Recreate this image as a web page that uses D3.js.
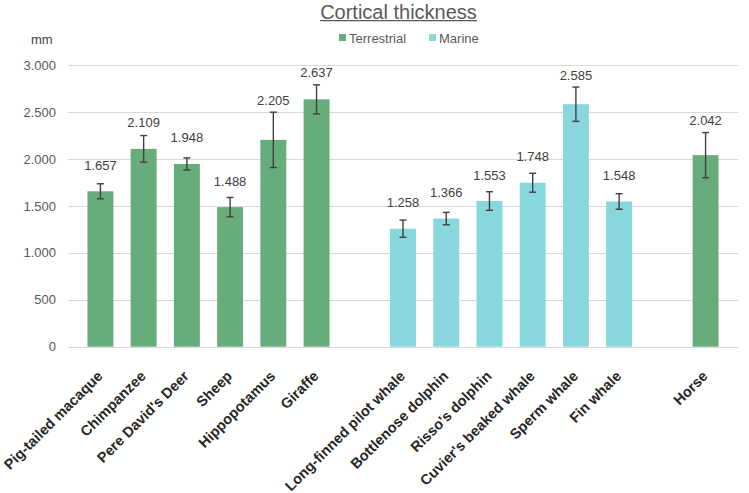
<!DOCTYPE html>
<html>
<head>
<meta charset="utf-8">
<script src="https://cdn.jsdelivr.net/npm/d3@7"></script>
<style>
  body { margin: 0; background: #fff; }
  svg { font-family: "Liberation Sans", Arial, sans-serif; }
</style>
</head>
<body>
<div id="chart"></div>
<script>
// chart data
const terrestrial = ["Pig-tailed macaque", "Chimpanzee", "Pere David's Deer", "Sheep", "Hippopotamus", "Giraffe"];
const terrestrialValues = [1657, 2109, 1948, 1488, 2205, 2637];
const terrestrialErrors = [80, 142, 64, 103, 295, 155];

const marine = ["Long-finned pilot whale", "Bottlenose dolphin", "Risso's dolphin", "Cuvier's beaked whale", "Sperm whale", "Fin whale"];
const marineValues = [1258, 1366, 1553, 1748, 2585, 1548];
const marineErrors = [92, 66, 99, 101, 183, 83];

const extra = ["Horse"];
const extraValues = [2042];
const extraErrors = [241];

const yTicks = [0, 500, 1000, 1500, 2000, 2500, 3000];
const seriesNames = ["Terrestrial", "Marine"];
const colors = { Terrestrial: "#67ad7b", Marine: "#88d6de" };

const width = 749, height = 493;

// build rows for drawing
const rows = [];
terrestrial.forEach((c, i) => rows.push({ cat: c, value: terrestrialValues[i], err: terrestrialErrors[i], group: "Terrestrial" }));
marine.forEach((c, i) => rows.push({ cat: c, value: marineValues[i], err: marineErrors[i], group: "Marine" }));
extra.forEach((c, i) => rows.push({ cat: c, value: extraValues[i], err: extraErrors[i], group: "Terrestrial" }));

// spacer slots between groups
const domain = [...terrestrial, "__gap1", ...marine, "__gap2", ...extra];

const locale = d3.formatLocale({ decimal: ",", thousands: ".", grouping: [3], currency: ["", "€"] });
const fmt = locale.format(",d");

const svg = d3.select("#chart").append("svg").attr("width", width).attr("height", height);

const x = d3.scaleBand().domain(domain).range([68, 738]).paddingInner(0.4).paddingOuter(0.45);
const y = d3.scaleLinear().domain([0, 3000]).range([346.7, 65.3]);

// gridlines
svg.append("g").selectAll("line").data(yTicks).join("line")
    .attr("x1", 68).attr("x2", 738)
    .attr("y1", d => Math.round(y(d)) + 0.5).attr("y2", d => Math.round(y(d)) + 0.5)
    .attr("stroke", "#d9d9d9").attr("stroke-width", 1);

// y axis labels
svg.append("g").selectAll("text").data(yTicks).join("text")
    .attr("x", 56).attr("y", d => y(d) + 4.5)
    .attr("text-anchor", "end").attr("font-size", 13).attr("fill", "#595959")
    .text(d => fmt(d));

svg.append("text").attr("x", 31).attr("y", 44)
    .attr("font-size", 13).attr("fill", "#404040").text("mm");

// bars
svg.append("g").selectAll("rect").data(rows).join("rect")
    .attr("x", d => x(d.cat)).attr("width", x.bandwidth())
    .attr("y", d => y(d.value)).attr("height", d => y(0) - y(d.value))
    .attr("fill", d => colors[d.group]);

// error bars
const eb = svg.append("g").attr("stroke", "#404040").attr("stroke-width", 1.4);
rows.forEach(d => {
    const cx = x(d.cat) + x.bandwidth() / 2;
    const top = y(d.value + d.err), bot = y(d.value - d.err);
    eb.append("line").attr("x1", cx).attr("x2", cx).attr("y1", top).attr("y2", bot);
    eb.append("line").attr("x1", cx - 3.5).attr("x2", cx + 3.5).attr("y1", top).attr("y2", top);
    eb.append("line").attr("x1", cx - 3.5).attr("x2", cx + 3.5).attr("y1", bot).attr("y2", bot);
});

// value labels, above the bar or above the error bar
svg.append("g").selectAll("text").data(rows).join("text")
    .attr("x", d => x(d.cat) + x.bandwidth() / 2)
    .attr("y", d => Math.min(y(d.value) - 26, y(d.value + d.err) - 12) + 4.5)
    .attr("text-anchor", "middle").attr("font-size", 13).attr("fill", "#404040")
    .text(d => fmt(d.value));

// category labels
svg.append("g").selectAll("text").data(rows).join("text")
    .attr("transform", d => `translate(${x(d.cat) + x.bandwidth() / 2 + 3},${377}) rotate(-45)`)
    .attr("text-anchor", "end").attr("font-size", 14.5).attr("font-weight", "bold").attr("fill", "#262626")
    .text(d => d.cat);

// title
const title = svg.append("text").attr("x", 398.5).attr("y", 18.5)
    .attr("text-anchor", "middle").attr("font-size", 20).attr("fill", "#595959")
    .text("Cortical thickness");
const tw = title.node().getComputedTextLength();
svg.append("line").attr("x1", 398.5 - tw / 2).attr("x2", 398.5 + tw / 2)
    .attr("y1", 20.6).attr("y2", 20.6).attr("stroke", "#595959").attr("stroke-width", 1.2);

// legend
const legendX = [339, 429];
const lg = svg.append("g").selectAll("g").data(seriesNames).join("g")
    .attr("transform", (d, i) => `translate(${legendX[i]},34)`);
lg.append("rect").attr("width", 7).attr("height", 7).attr("fill", d => colors[d]);
lg.append("text").attr("x", 10).attr("y", 8.5).attr("font-size", 13).attr("fill", "#595959").text(d => d);
</script>
</body>
</html>
